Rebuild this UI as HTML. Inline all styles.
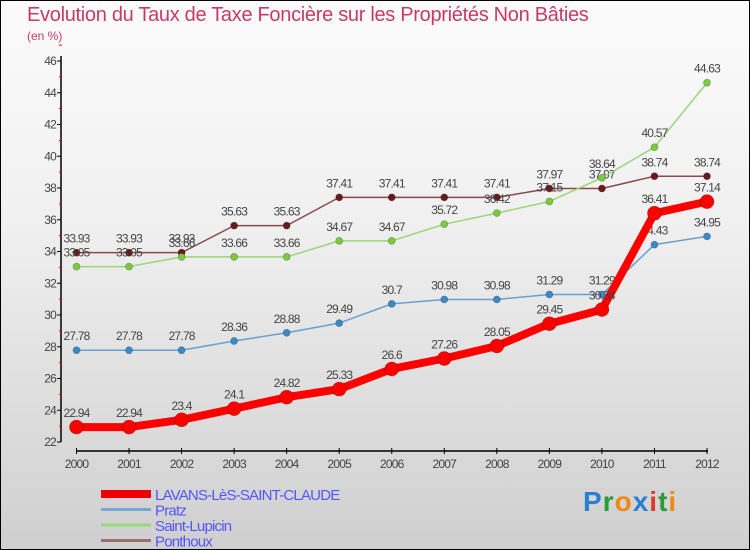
<!DOCTYPE html>
<html><head><meta charset="utf-8"><style>
body{margin:0}
#wrap{width:750px;height:550px;position:relative;box-sizing:border-box;border:1px solid #000;background:linear-gradient(#fbfbfb,#f0f0f0 40%,#cfcfcf);font-family:"Liberation Sans",sans-serif;overflow:hidden}
.t{position:absolute;color:#c8396a;font-weight:300}
</style></head><body>
<div id="wrap">
<div class="t" style="left:26px;top:3px;font-size:20px;letter-spacing:-0.3px">Evolution du Taux de Taxe Foncière sur les Propriétés Non Bâties</div>
<div class="t" style="left:26px;top:28px;font-size:12px">(en %)</div>
<svg id="svg" width="750" height="550" style="position:absolute;left:0;top:0"></svg>
<div style="position:absolute;left:582px;top:485px;font-size:28px;font-weight:bold;letter-spacing:1px"><span style="color:#2a7fd0">P</span><span style="color:#2a9a3a">r</span><span style="color:#f08a10">o</span><span style="color:#2a7fd0">x</span><span style="color:#e03a2a">i</span><span style="color:#2a9a3a">t</span><span style="color:#f08a10">i</span></div>
</div>
<script>
const years=[2000,2001,2002,2003,2004,2005,2006,2007,2008,2009,2010,2011,2012];
const yTicks=[22,24,26,28,30,32,34,36,38,40,42,44,46];
const seriesNames=["LAVANS-LèS-SAINT-CLAUDE","Pratz","Saint-Lupicin","Ponthoux"];
const lavans=[22.94,22.94,23.4,24.1,24.82,25.33,26.6,27.26,28.05,29.45,30.34,36.41,37.14];
const pratz=[27.78,27.78,27.78,28.36,28.88,29.49,30.7,30.98,30.98,31.29,31.29,34.43,34.95];
const lupicin=[33.05,33.05,33.66,33.66,33.66,34.67,34.67,35.72,36.42,37.15,38.64,40.57,44.63];
const ponthoux=[33.93,33.93,33.93,35.63,35.63,37.41,37.41,37.41,37.41,37.97,37.97,38.74,38.74];
const svg=document.getElementById('svg');const NS='http://www.w3.org/2000/svg';
const X=i=>75.5+i*(706-75.5)/12;
const Y=v=>441-(v-22)*(441-60)/24;
function el(t,a,p){const e=document.createElementNS(NS,t);for(const k in a)e.setAttribute(k,a[k]);(p||svg).appendChild(e);return e;}
let a=el('line',{x1:60,y1:55,x2:60,y2:441,stroke:'#000','stroke-width':1.5});


a=el('line',{x1:75,y1:450,x2:707,y2:450,stroke:'#000','stroke-width':1.5});


yTicks.forEach(v=>{el('line',{x1:56,x2:60,y1:Y(v),y2:Y(v),stroke:'#000'});
el('line',{x1:58,x2:61,y1:Y(v+1),y2:Y(v+1),stroke:'#e00'});
const t=el('text',{x:55,y:Y(v)+4,'text-anchor':'end','font-size':12,fill:'#444','letter-spacing':'-0.8'});t.textContent=v;

});
years.forEach((y,i)=>{el('line',{x1:X(i),x2:X(i),y1:447,y2:453,stroke:'#000'});
const t=el('text',{x:X(i),y:467,'text-anchor':'middle','font-size':12,fill:'#444','letter-spacing':'-0.8'});t.textContent=y;

});
function series(data,color,dot,w,r,name){
const g=el('g',{});
el('polyline',{points:data.map((v,i)=>X(i)+','+Y(v)).join(' '),fill:'none',stroke:color,'stroke-width':w,'stroke-linejoin':'round'},g);
data.forEach((v,i)=>{const c=el('circle',{cx:X(i),cy:Y(v),r:r,fill:dot,stroke:'rgba(0,0,0,0.3)','stroke-width':0.7},g);


const t=el('text',{x:X(i),y:Y(v)-10,'text-anchor':'middle','font-size':12,fill:'#444','letter-spacing':'-0.8'},g);t.textContent=v;});}
series(ponthoux,'#8b4a4a','#6a1a1a',1.5,3.5,'series-ponthoux');
series(lupicin,'#9ad67a','#7acc3a',1.5,3.5,'series-saint-lupicin');
series(pratz,'#6aa0d0','#3a8ac8',1.5,3.5,'series-pratz');
series(lavans,'#f00','#f00',8,7,'series-lavans');
const cols=['#e00','#7aa8cc','#9ad67a','#9a7070'],ws=[8,3,3,3];
seriesNames.forEach((n,i)=>{const y=493+i*15.5;
const l=el('line',{x1:100,x2:150,y1:y,y2:y,stroke:cols[i],'stroke-width':ws[i]});


const t=el('text',{x:154,y:y+6,'font-size':15,fill:'#55f','letter-spacing':'-0.8'});t.textContent=n;

});
</script>
</body></html>
